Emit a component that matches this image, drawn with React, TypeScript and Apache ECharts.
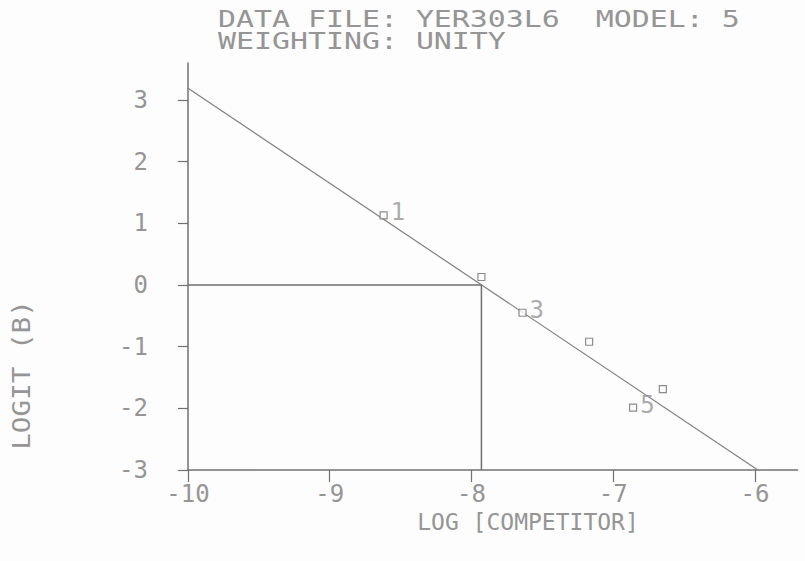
import React, { useEffect, useRef } from "react";
import * as echarts from "echarts";

const xTicks = [-10, -9, -8, -7, -6];
const yTicks = [-3, -2, -1, 0, 1, 2, 3];
const pointX = [-8.62, -7.93, -7.64, -7.17, -6.86, -6.65];
const pointY = [1.13, 0.13, -0.45, -0.92, -1.99, -1.69];
const pointLabels = ["1", "", "3", "", "5", ""];
const fitLine: [number, number][] = [[-10, 3.19], [-5.98, -3.0]];
const midPoint = [-7.93, 0];
const titleLines = ["DATA FILE: YER303L6  MODEL: 5", "WEIGHTING: UNITY"];
const xName = "LOG [COMPETITOR]";
const yName = "LOGIT (B)";

const MONO = '"DejaVu Sans Mono", "Liberation Mono", monospace';
const TXT = "#959595";
const LINE = "#707070";

export default function App() {
  const ref = useRef<HTMLDivElement>(null);
  useEffect(() => {
    if (!ref.current) return;
    const chart = echarts.init(ref.current, undefined, { renderer: "svg" });
    const guide = [
      [xTicks[0], midPoint[1]],
      [midPoint[0], midPoint[1]],
      [midPoint[0], yTicks[0]],
    ];
    chart.setOption({
      animation: false,
      backgroundColor: "#fdfdfd",
      grid: { left: 188, right: 7.5, top: 63, bottom: 91, containLabel: false, outerBoundsMode: "none" },
      xAxis: {
        type: "value",
        min: -10,
        max: -5.7,
        axisLine: { show: true, onZero: false, lineStyle: { color: LINE, width: 1.5 } },
        axisTick: { show: true, customValues: xTicks, length: 12, lineStyle: { color: LINE, width: 1.2 } },
        axisLabel: {
          customValues: xTicks,
          formatter: (v: number) => String(v),
          fontFamily: MONO,
          fontSize: 24,
          color: TXT,
          margin: 12,
        },
        splitLine: { show: false },
      },
      yAxis: {
        type: "value",
        min: -3,
        max: 3.6,
        axisLine: { show: true, onZero: false, lineStyle: { color: LINE, width: 1.5 } },
        axisTick: { show: true, customValues: yTicks, length: 10, lineStyle: { color: LINE, width: 1.2 } },
        axisLabel: {
          customValues: yTicks,
          formatter: (v: number) => String(v),
          fontFamily: MONO,
          fontSize: 24,
          color: TXT,
          margin: 40,
        },
        splitLine: { show: false },
      },
      graphic: [
        {
          type: "text",
          x: 218,
          y: 19,
          scaleX: 1.3,
          style: { text: titleLines[0], font: `23px ${MONO}`, fill: TXT, textVerticalAlign: "middle" },
        },
        {
          type: "text",
          x: 218,
          y: 41,
          scaleX: 1.3,
          style: { text: titleLines[1], font: `23px ${MONO}`, fill: TXT, textVerticalAlign: "middle" },
        },
        {
          type: "text",
          x: 528,
          y: 522,
          style: { text: xName, font: `23px ${MONO}`, fill: TXT, textAlign: "center", textVerticalAlign: "middle" },
        },
        {
          type: "text",
          x: 22,
          y: 375,
          rotation: Math.PI / 2,
          scaleX: 1.15,
          style: { text: yName, font: `24px ${MONO}`, fill: TXT, textAlign: "center", textVerticalAlign: "middle" },
        },
      ],
      series: [
        {
          type: "line",
          data: fitLine,
          symbol: "none",
          lineStyle: { color: "#808080", width: 1.2 },
          z: 2,
        },
        {
          type: "line",
          data: guide,
          symbol: "none",
          lineStyle: { color: LINE, width: 1.5 },
          z: 2,
        },
        {
          type: "scatter",
          data: pointX.map((x, i) => ({ value: [x, pointY[i]], name: pointLabels[i] })),
          symbol: "rect",
          symbolSize: 7,
          itemStyle: { color: "#fdfdfd", borderColor: LINE, borderWidth: 1.2 },
          label: {
            show: true,
            position: "right",
            distance: 3,
            formatter: (p: any) => pointLabels[p.dataIndex],
            fontFamily: MONO,
            fontSize: 24,
            color: TXT,
            offset: [0, -3],
          },
          z: 3,
        },
      ],
    });
    return () => chart.dispose();
  }, []);
  return (
    <div
      ref={ref}
      style={{ position: "fixed", left: 0, top: 0, width: 805, height: 561 }}
    />
  );
}
